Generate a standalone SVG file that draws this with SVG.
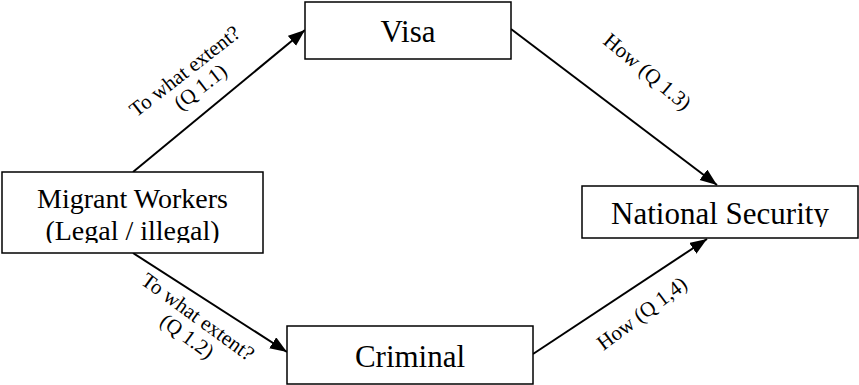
<svg xmlns="http://www.w3.org/2000/svg" width="859" height="385" viewBox="0 0 859 385">
  <style>
    .box { fill: #ffffff; stroke: #000000; stroke-width: 1.5; }
    .node-text { font-family: "Liberation Serif", "Times New Roman", serif; fill: #000000; text-anchor: middle; }
    .edge { fill: none; stroke: #000000; stroke-width: 2; marker-end: url(#arrow); }
    .edge-label { font-family: "Liberation Serif", "Times New Roman", serif; font-size: 21px; fill: #000000; text-anchor: middle; }
  </style>
  <defs>
    <marker id="arrow" markerUnits="userSpaceOnUse" markerWidth="18" markerHeight="14" refX="17" refY="6.5" orient="auto">
      <path d="M0,0 L17,6.5 L0,13 z" fill="#000000"/>
    </marker>
    <clipPath id="clip-migrant"><rect x="2" y="172" width="261" height="71"/></clipPath>
    <clipPath id="clip-security"><rect x="582" y="186" width="276" height="41"/></clipPath>
  </defs>

  <rect width="859" height="385" fill="#ffffff"/>

  <!-- connectors -->
  <g id="connectors">
    <line class="edge" x1="133" y1="172" x2="305" y2="30"/>
    <line class="edge" x1="133" y1="253" x2="287" y2="352"/>
    <line class="edge" x1="511" y1="29" x2="717" y2="185"/>
    <line class="edge" x1="533" y1="354" x2="707" y2="239"/>

    <text class="edge-label" transform="translate(191,75) rotate(-38)">
      <tspan x="0" y="0">To what extent?</tspan>
      <tspan x="0" y="22">(Q 1.1)</tspan>
    </text>
    <text class="edge-label" transform="translate(196,324) rotate(36)">
      <tspan x="0" y="0">To what extent?</tspan>
      <tspan x="0" y="22">(Q 1.2)</tspan>
    </text>
    <text class="edge-label" transform="translate(643,77) rotate(40)">How (Q 1.3)</text>
    <text class="edge-label" transform="translate(646,319) rotate(-37)">How (Q 1,4)</text>
  </g>

  <!-- nodes -->
  <g id="migrant-workers">
    <rect class="box" x="2" y="172" width="261" height="81"/>
    <g clip-path="url(#clip-migrant)">
      <text class="node-text" x="132.5" y="208" font-size="28">Migrant Workers</text>
      <text class="node-text" x="132.5" y="240" font-size="28">(Legal / illegal)</text>
    </g>
  </g>

  <g id="visa">
    <rect class="box" x="305" y="2" width="206" height="57"/>
    <text class="node-text" x="408" y="42" font-size="31">Visa</text>
  </g>

  <g id="criminal">
    <rect class="box" x="287" y="326" width="246" height="58"/>
    <text class="node-text" x="410" y="367" font-size="31">Criminal</text>
  </g>

  <g id="national-security">
    <rect class="box" x="582" y="186" width="276" height="52"/>
    <g clip-path="url(#clip-security)">
      <text class="node-text" x="720" y="224" font-size="31">National Security</text>
    </g>
  </g>
</svg>
